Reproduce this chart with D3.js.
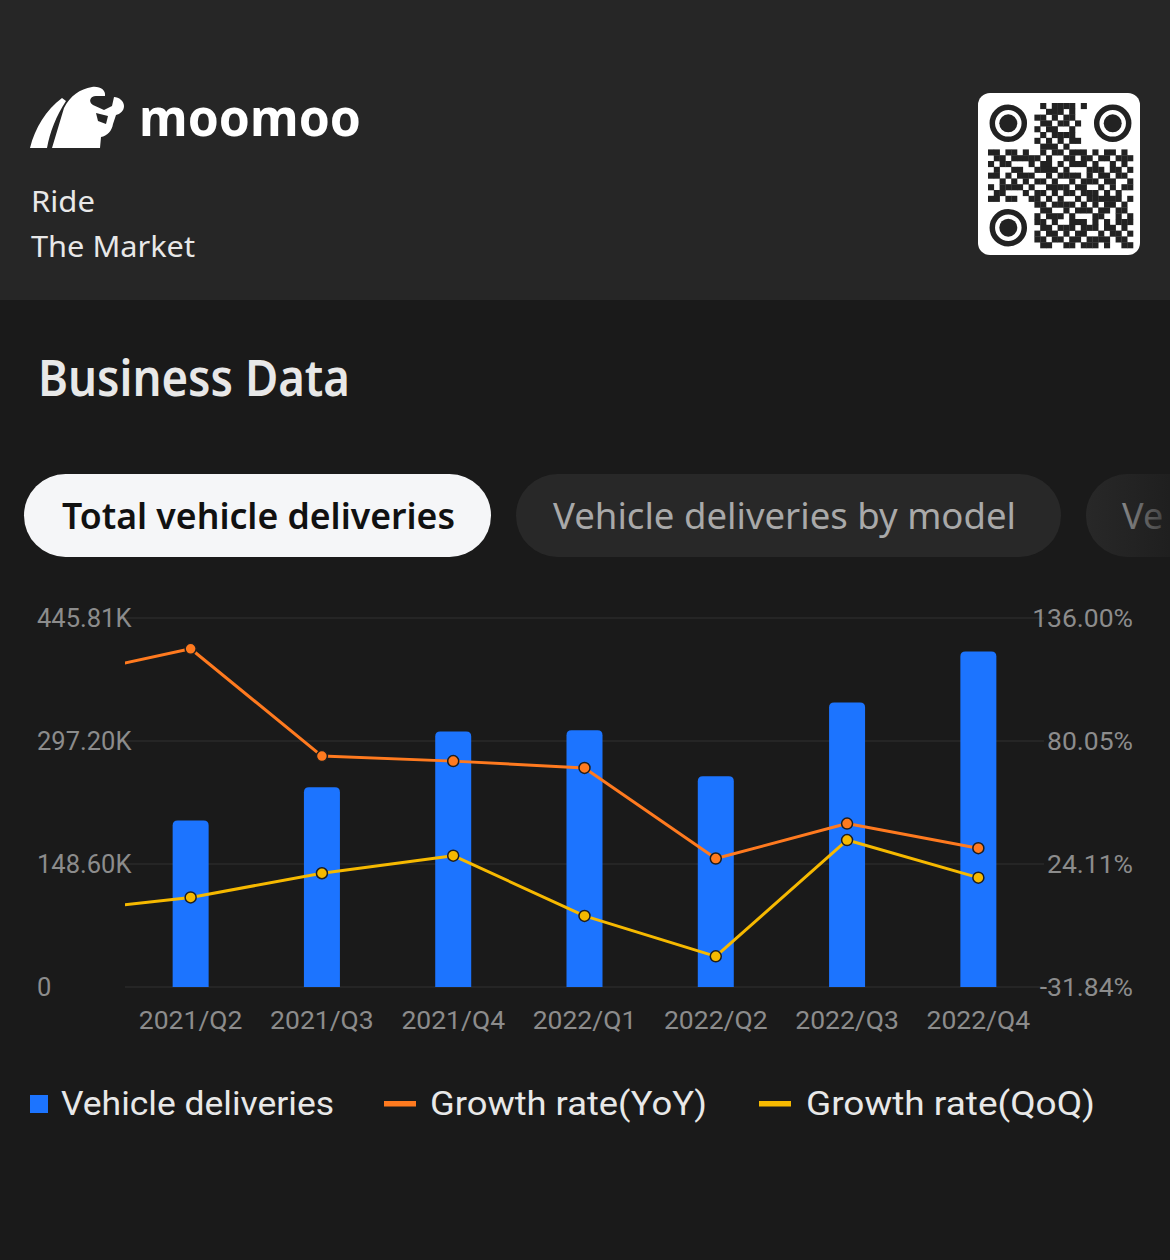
<!DOCTYPE html>
<html>
<head>
<meta charset="utf-8">
<script src="https://cdn.jsdelivr.net/npm/d3@7"></script>
<style>
  html, body { margin: 0; padding: 0; background: #1a1a1a; }
  svg { display: block; }
</style>
</head>
<body>
<svg id="chart" width="1170" height="1260"></svg>
<script>
// ---------------- DATA ----------------
const categories = ["2021/Q2", "2021/Q3", "2021/Q4", "2022/Q1", "2022/Q2", "2022/Q3", "2022/Q4"];
const deliveries = [201.25, 241.30, 308.60, 310.05, 254.70, 343.83, 405.28]; // thousands
const yoyGrowth  = [122.0, 73.2, 70.9, 67.8, 26.6, 42.5, 31.3];              // %
const qoqGrowth  = [8.9, 19.9, 27.9, 0.5, -17.9, 35.0, 17.9];                 // %
// preceding quarter (2021/Q1), only its connecting segment is visible
const prevYoY = 109.0;
const prevQoQ = 2.3;
const leftTicks  = [0, 148.60, 297.20, 445.81];
const leftTickLabels  = ["0", "148.60K", "297.20K", "445.81K"];
const rightTicks = [-31.84, 24.11, 80.05, 136.00];
const rightTickLabels = ["-31.84%", "24.11%", "80.05%", "136.00%"];
const legendLabels = ["Vehicle deliveries", "Growth rate(YoY)", "Growth rate(QoQ)"];
const tabLabels = ["Total vehicle deliveries", "Vehicle deliveries by model", "Ve"];
const qrRows = [
  "0000000001011110100000000",
  "0000000000111010000000000",
  "0000000011010110000000000",
  "0000000001101101000000000",
  "0000000010110010000000000",
  "0000000001011110000000000",
  "0000000010101011000000000",
  "0000000001110100000000000",
  "1101101001011011101011010",
  "0110111110100110110110111",
  "1011000101101011101001010",
  "0100110011110100011101101",
  "1101011100101111010110110",
  "0010101011010010111011001",
  "1011110100111101100101011",
  "0110001011010110111010100",
  "1101100110101001011111101",
  "0000000011011110101011010",
  "0000000001100101110110110",
  "0000000010111010001100101",
  "0000000011010011101010111",
  "0000000001101110111011010",
  "0000000010110101100101101",
  "0000000011011011011110110",
  "0000000001100110111010011"
];

// ---------------- COLORS ----------------
const C = {
  bg: "#1a1a1a", header: "#262626", grid: "#2a2a2a", axis: "#8c8c8c",
  bar: "#1c74ff", yoy: "#ff7a1f", qoq: "#f6b900", text: "#e8e8e8"
};

const svg = d3.select("#chart");
svg.append("rect").attr("width", 1170).attr("height", 1260).attr("fill", C.bg);

// ---------------- HEADER ----------------
svg.append("rect").attr("width", 1170).attr("height", 300).attr("fill", C.header);

const logo = svg.append("g").attr("fill", "#ffffff");
// left wing
logo.append("path").attr("d", "M30,148 C35,128 46,110 62,98 L66,101 C56,116 50,132 47,148 Z");
// bull body / head
logo.append("path").attr("d",
  "M52,148 L64,108 C70,96 80,89 92,87 C100,86 106,90 105,96 L96,96 C90,96 88,102 93,105 L104,110 L112,106 L114,97 C119,97 124,101 124,106 C124,111 120,114 116,115 L113,124 C112,131 107,136 101,137 L100,148 Z");
// dark notch in the face
svg.append("path").attr("fill", C.header)
  .attr("d", "M96,113 L108,116 L106,124 L98,121 Z");

svg.append("text").text("moomoo")
  .attr("x", 139).attr("y", 136)
  .attr("font-family", "'Noto Sans', sans-serif").attr("font-weight", 700)
  .attr("font-size", 52).attr("fill", "#ffffff")
  .attr("textLength", 222).attr("lengthAdjust", "spacingAndGlyphs");

svg.append("text").text("Ride").attr("x", 31).attr("y", 212)
  .attr("font-family", "'Noto Sans', sans-serif").attr("font-size", 29).attr("fill", C.text)
  .attr("textLength", 64).attr("lengthAdjust", "spacingAndGlyphs");
svg.append("text").text("The Market").attr("x", 31).attr("y", 257)
  .attr("font-family", "'Noto Sans', sans-serif").attr("font-size", 29).attr("fill", C.text)
  .attr("textLength", 164).attr("lengthAdjust", "spacingAndGlyphs");

// QR code
const qr = svg.append("g");
qr.append("rect").attr("x", 978).attr("y", 93).attr("width", 162).attr("height", 162)
  .attr("rx", 12).attr("fill", "#ffffff");
const qx0 = 988, qy0 = 103, qm = 5.8;
const inFinder = (r, c) => (r < 8 && c < 8) || (r < 8 && c > 16) || (r > 16 && c < 8);
qrRows.forEach((row, r) => {
  for (let c = 0; c < 25; c++) {
    if (row[c] === "1" && !inFinder(r, c)) {
      qr.append("rect").attr("x", qx0 + c * qm).attr("y", qy0 + r * qm)
        .attr("width", qm + 0.3).attr("height", qm + 0.3).attr("fill", "#222222");
    }
  }
});
[[3.5, 3.5], [21.5, 3.5], [3.5, 21.5]].forEach(([cx, cy]) => {
  const x = qx0 + cx * qm, y = qy0 + cy * qm;
  qr.append("circle").attr("cx", x).attr("cy", y).attr("r", 16).attr("fill", "none")
    .attr("stroke", "#222222").attr("stroke-width", 5.5);
  qr.append("circle").attr("cx", x).attr("cy", y).attr("r", 9).attr("fill", "#222222");
});

// ---------------- TITLE + TABS ----------------
svg.append("text").text("Business Data").attr("x", 38).attr("y", 396)
  .attr("font-family", "'Noto Sans', sans-serif").attr("font-weight", 600)
  .attr("font-size", 50).attr("fill", C.text)
  .attr("textLength", 312).attr("lengthAdjust", "spacingAndGlyphs");

const defs = svg.append("defs");
const g1 = defs.append("linearGradient").attr("id", "fadeFill").attr("gradientUnits", "userSpaceOnUse")
  .attr("x1", 1086).attr("x2", 1170).attr("y1", 0).attr("y2", 0);
g1.append("stop").attr("offset", 0).attr("stop-color", "#282828");
g1.append("stop").attr("offset", 1).attr("stop-color", "#1f1f1f");
const g2 = defs.append("linearGradient").attr("id", "fadeText").attr("gradientUnits", "userSpaceOnUse")
  .attr("x1", 1120).attr("x2", 1170).attr("y1", 0).attr("y2", 0);
g2.append("stop").attr("offset", 0).attr("stop-color", "#8a8a8a");
g2.append("stop").attr("offset", 1).attr("stop-color", "#3a3a3a");

svg.append("rect").attr("x", 24).attr("y", 474).attr("width", 467).attr("height", 83)
  .attr("rx", 41.5).attr("fill", "#f5f6f8");
svg.append("text").text(tabLabels[0]).attr("x", 62).attr("y", 529)
  .attr("font-family", "'Noto Sans', sans-serif").attr("font-weight", 600)
  .attr("font-size", 36).attr("fill", "#111111")
  .attr("textLength", 393).attr("lengthAdjust", "spacingAndGlyphs");

svg.append("rect").attr("x", 516).attr("y", 474).attr("width", 545).attr("height", 83)
  .attr("rx", 41.5).attr("fill", "#282828");
svg.append("text").text(tabLabels[1]).attr("x", 553).attr("y", 529)
  .attr("font-family", "'Noto Sans', sans-serif")
  .attr("font-size", 36).attr("fill", "#a9a9a9")
  .attr("textLength", 463).attr("lengthAdjust", "spacingAndGlyphs");

svg.append("rect").attr("x", 1086).attr("y", 474).attr("width", 545).attr("height", 83)
  .attr("rx", 41.5).attr("fill", "url(#fadeFill)");
svg.append("text").text(tabLabels[2]).attr("x", 1122).attr("y", 529)
  .attr("font-family", "'Noto Sans', sans-serif")
  .attr("font-size", 36).attr("fill", "url(#fadeText)");

// ---------------- CHART ----------------
const plotLeft = 125, plotRight = 1044, plotTop = 618, plotBottom = 987;
const x = d3.scaleBand().domain(categories).range([plotLeft, plotRight]).padding(0);
const step = x.step();
const cx = d => x(d) + x.bandwidth() / 2;
const yL = d3.scaleLinear().domain([0, 445.81]).range([plotBottom, plotTop]);
const yR = d3.scaleLinear().domain([-31.84, 136.00]).range([plotBottom, plotTop]);

// grid
svg.append("g").selectAll("line").data(leftTicks).join("line")
  .attr("x1", plotLeft).attr("x2", plotRight)
  .attr("y1", d => yL(d)).attr("y2", d => yL(d))
  .attr("stroke", C.grid).attr("stroke-width", 1.5);

// left axis labels
const axisFont = "Roboto, 'Noto Sans', sans-serif";
svg.append("g").selectAll("text").data(leftTicks).join("text")
  .attr("x", 37).attr("y", d => yL(d) + 9)
  .attr("font-family", axisFont).attr("font-size", 25.5).attr("fill", C.axis)
  .text((d, i) => leftTickLabels[i]);

// right axis labels
svg.append("g").selectAll("text").data(rightTicks).join("text")
  .attr("x", 1133).attr("y", d => yR(d) + 9).attr("text-anchor", "end")
  .attr("font-family", axisFont).attr("font-size", 26.5).attr("fill", C.axis)
  .text((d, i) => rightTickLabels[i]);

// x labels
svg.append("g").selectAll("text").data(categories).join("text")
  .attr("x", d => cx(d)).attr("y", 1029).attr("text-anchor", "middle")
  .attr("font-family", axisFont).attr("font-size", 26.5).attr("fill", C.axis)
  .text(d => d);

// bars with rounded top corners
const barW = 36, rr = 5;
function barPath(xc, yTop, yBot) {
  const x0 = xc - barW / 2, x1 = xc + barW / 2;
  return `M${x0},${yBot} L${x0},${yTop + rr} Q${x0},${yTop} ${x0 + rr},${yTop} L${x1 - rr},${yTop} Q${x1},${yTop} ${x1},${yTop + rr} L${x1},${yBot} Z`;
}
svg.append("g").selectAll("path").data(categories).join("path")
  .attr("d", (d, i) => barPath(cx(d), yL(deliveries[i]), yL(0)))
  .attr("fill", C.bar);

// lines (clipped to plot area)
defs.append("clipPath").attr("id", "plotClip").append("rect")
  .attr("x", plotLeft).attr("y", 560).attr("width", plotRight - plotLeft).attr("height", 460);

function lineData(prev, vals) {
  const pts = [[cx(categories[0]) - step, yR(prev)]];
  vals.forEach((v, i) => pts.push([cx(categories[i]), yR(v)]));
  return pts;
}
const lineGen = d3.line();
[[prevYoY, yoyGrowth, C.yoy], [prevQoQ, qoqGrowth, C.qoq]].forEach(([prev, vals, col]) => {
  svg.append("path").attr("clip-path", "url(#plotClip)")
    .attr("d", lineGen(lineData(prev, vals)))
    .attr("fill", "none").attr("stroke", col).attr("stroke-width", 3)
    .attr("stroke-linejoin", "round");
});
[[yoyGrowth, C.yoy], [qoqGrowth, C.qoq]].forEach(([vals, col]) => {
  svg.append("g").selectAll("circle").data(vals).join("circle")
    .attr("cx", (d, i) => cx(categories[i])).attr("cy", d => yR(d))
    .attr("r", 5.5).attr("fill", col)
    .attr("stroke", "#1e1e1e").attr("stroke-width", 1.5);
});

// ---------------- LEGEND ----------------
const legFont = "Roboto, 'Noto Sans', sans-serif";
svg.append("rect").attr("x", 30).attr("y", 1095).attr("width", 18).attr("height", 18).attr("fill", C.bar);
svg.append("rect").attr("x", 384).attr("y", 1101).attr("width", 32).attr("height", 5.5).attr("fill", C.yoy);
svg.append("rect").attr("x", 759).attr("y", 1101).attr("width", 32).attr("height", 5.5).attr("fill", C.qoq);
const legX = [61, 430, 806], legW = [273, 277, 289];
legendLabels.forEach((t, i) => {
  svg.append("text").text(t).attr("x", legX[i]).attr("y", 1115)
    .attr("font-family", legFont).attr("font-size", 33).attr("fill", C.text)
    .attr("textLength", legW[i]).attr("lengthAdjust", "spacingAndGlyphs");
});
</script>
</body>
</html>
